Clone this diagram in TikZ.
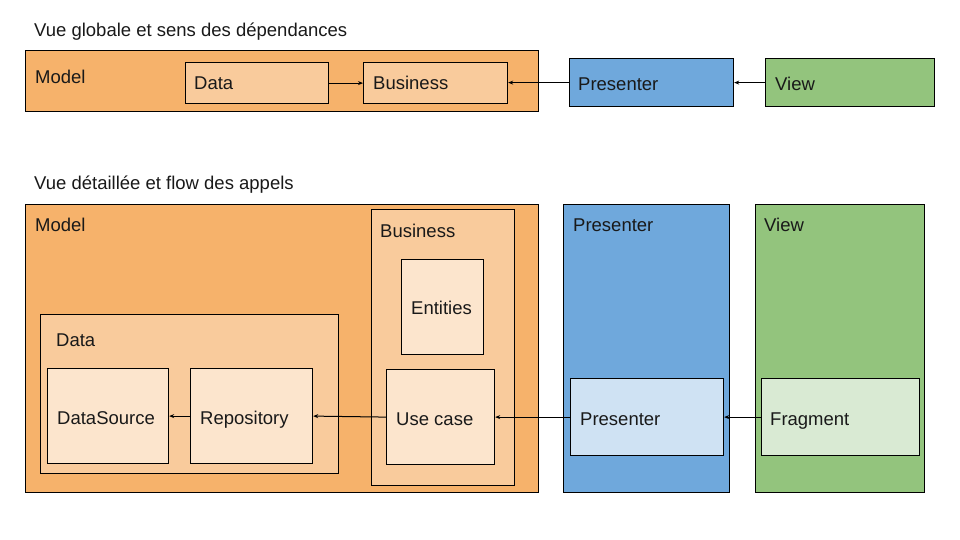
\documentclass[tikz,border=0pt]{standalone}
\usepackage{fontspec}
\setmainfont{Liberation Sans}
\usetikzlibrary{arrows.meta}
\definecolor{orA}{HTML}{F6B26B}
\definecolor{orB}{HTML}{F9CB9C}
\definecolor{orC}{HTML}{FCE5CD}
\definecolor{blA}{HTML}{6FA8DC}
\definecolor{blB}{HTML}{CFE2F3}
\definecolor{grA}{HTML}{93C47D}
\definecolor{grB}{HTML}{D9EAD3}
\begin{document}
\begin{tikzpicture}[x=1pt,y=-1pt,
  box/.style={draw=black,line width=1.2pt,rectangle,inner sep=0pt,anchor=north west},
  lbl/.style={anchor=base west,inner sep=0pt,font=\fontsize{18.5}{22}\selectfont,text=black!90},
  arr/.style={line width=1pt,-{Stealth[length=5pt,width=4pt]}}]
\useasboundingbox (0,0) rectangle (960,540);
% ---------- top row
\node[lbl] (t1) at (34,37) {Vue globale et sens des dépendances};
\node[box,fill=orA,minimum width=513pt,minimum height=61pt] (tmodel) at (25,50) {};
\node[lbl] (tmodell) at (35,84) {Model};
\node[box,fill=orB,minimum width=143pt,minimum height=41pt] (tdata) at (185,62) {};
\node[lbl] (tdatal) at (194,90) {Data};
\node[box,fill=orB,minimum width=144pt,minimum height=41pt] (tbus) at (363,62) {};
\node[lbl] (tbusl) at (373,90) {Business};
\node[box,fill=blA,minimum width=164pt,minimum height=48pt] (tpres) at (569,58) {};
\node[lbl] (tpresl) at (578,90.5) {Presenter};
\node[box,fill=grA,minimum width=169pt,minimum height=48pt] (tview) at (765,58) {};
\node[lbl] (tviewl) at (775,90.5) {View};
\draw[arr] (tdata.east) -- (tbus.west);
\draw[arr] (tpres.west) -- (tpres.west -| tbus.east);
\draw[arr] (tview.west) -- (tpres.east);
% ---------- bottom
\node[lbl] (t2) at (34,189.5) {Vue détaillée et flow des appels};
\node[box,fill=orA,minimum width=513pt,minimum height=288pt] (bmodel) at (25,204) {};
\node[lbl] (bmodell) at (35,231) {Model};
\node[box,fill=orB,minimum width=143pt,minimum height=276pt] (bbus) at (371,209) {};
\node[lbl] (bbusl) at (380,237.5) {Business};
\node[box,fill=orC,minimum width=82pt,minimum height=95pt] (ent) at (401,259) {};
\node[lbl] (entl) at (411,314.5) {Entities};
\node[box,fill=orC,minimum width=108pt,minimum height=95pt] (uc) at (386,369) {};
\node[lbl] (ucl) at (396,425.5) {Use case};
\node[box,fill=orB,minimum width=298pt,minimum height=159pt] (bdata) at (40,314) {};
\node[lbl] (bdatal) at (56,346.5) {Data};
\node[box,fill=orC,minimum width=121pt,minimum height=95pt] (ds) at (47,368) {};
\node[lbl] (dsl) at (57,424.5) {DataSource};
\node[box,fill=orC,minimum width=122pt,minimum height=95pt] (repo) at (190,368) {};
\node[lbl] (repol) at (200,424.5) {Repository};
\node[box,fill=blA,minimum width=166pt,minimum height=288pt] (bpres) at (563,204) {};
\node[lbl] (bpresl) at (573,231) {Presenter};
\node[box,fill=blB,minimum width=153pt,minimum height=77pt] (pin) at (570,378) {};
\node[lbl] (pinl) at (580,425.5) {Presenter};
\node[box,fill=grA,minimum width=169pt,minimum height=288pt] (bview) at (755,204) {};
\node[lbl] (bviewl) at (764,231) {View};
\node[box,fill=grB,minimum width=158pt,minimum height=77pt] (frag) at (761,378) {};
\node[lbl] (fragl) at (770,425.5) {Fragment};
\draw[arr] (frag.west) -- (pin.east);
\draw[arr] (pin.west) -- (pin.west -| uc.east);
\draw[arr] (uc.west) -- (repo.east);
\draw[arr] (repo.west) -- (ds.east);
\end{tikzpicture}
\end{document}
